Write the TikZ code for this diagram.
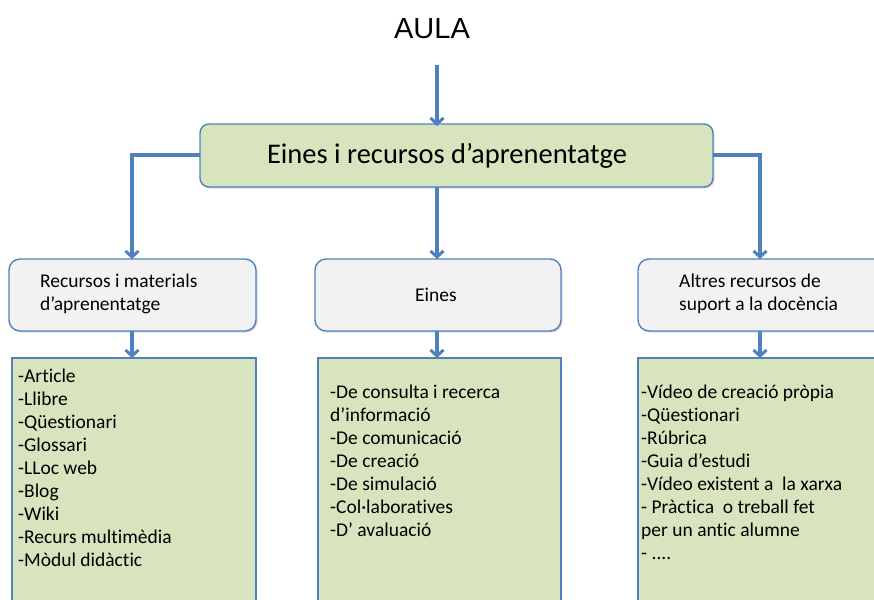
\documentclass[tikz,border=0pt]{standalone}
\usepackage{fontspec}
\setmainfont{Carlito}[Ligatures=NoCommon]
\newfontfamily\aulafont{Liberation Sans}
\usetikzlibrary{arrows.meta,shadows}
\definecolor{lineblue}{HTML}{4F81BD}
\definecolor{boxgreen}{HTML}{D7E4BD}
\definecolor{boxgray}{HTML}{F2F2F2}
\begin{document}
\begin{tikzpicture}[x=1pt,y=-1pt,
  conn/.style={draw=lineblue,line width=3.4pt,-{Straight Barb[length=6pt,width=13pt,line width=3pt]}},
  mainbox/.style={draw=lineblue,line width=1.4pt,fill=boxgreen,rounded corners=9pt,
    drop shadow={shadow xshift=1.5pt,shadow yshift=-1.5pt,opacity=0.3}},
  catbox/.style={draw=lineblue,line width=1.4pt,fill=boxgray,rounded corners=11pt,
    drop shadow={shadow xshift=1.5pt,shadow yshift=-1.5pt,opacity=0.3}},
  listbox/.style={draw=lineblue,line width=1.4pt,fill=boxgreen},
  txt/.style={inner sep=0pt,font=\fontsize{19.5}{23}\selectfont,align=left,anchor=north west},
]
\useasboundingbox (0,0) rectangle (874,599);

\node[font=\aulafont\fontsize{29}{30}\selectfont,inner sep=0pt] (aula) at (432,29) {AULA};

\draw[mainbox] (200,124) rectangle (713,187);
\coordinate (mainN) at (437,124);
\node[inner sep=0pt,font=\fontsize{28.5}{30}\selectfont] (main) at (447,156) {Eines i recursos d’aprenentatge};
\coordinate (mainW) at (200,155);
\coordinate (mainE) at (713,155);
\coordinate (mainS) at (437,187);

% category boxes
\draw[catbox] (9,259) rectangle (256,331);
\draw[catbox] (315,259) rectangle (561,331);
\draw[catbox] (638,259) rectangle (890,331);
\coordinate (c1N) at (132,259);
\coordinate (c2N) at (437,259);
\coordinate (c3N) at (760,259);
\coordinate (c1S) at (132,331);
\coordinate (c2S) at (437,331);
\coordinate (c3S) at (760,331);

\node[txt] (t1) at (40,274) {Recursos i materials\\d’aprenentatge};
\node[inner sep=0pt,font=\fontsize{19.5}{23}\selectfont] (t2) at (436,295) {Eines};
\node[txt] (t3) at (679,274) {Altres recursos de\\suport a la docència};

% list boxes
\draw[listbox] (12,358) rectangle (256,610);
\draw[listbox] (318,358) rectangle (561,610);
\draw[listbox] (638,358) rectangle (890,610);
\coordinate (l1N) at (132,358);
\coordinate (l2N) at (437,358);
\coordinate (l3N) at (760,358);

\node[txt] (l1) at (18,369) {-Article\\-Llibre\\-Qüestionari\\-Glossari\\-LLoc web\\-Blog\\-Wiki\\-Recurs multimèdia\\-Mòdul didàctic};
\node[txt] (l2) at (330,385) {-De consulta i recerca\\d’informació\\-De comunicació\\-De creació\\-De simulació\\-Col·laboratives\\-D’ avaluació};
\node[txt] (l3) at (641,385) {-Vídeo de creació pròpia\\-Qüestionari\\-Rúbrica\\-Guia d’estudi\\-Vídeo existent a\ \ la xarxa\\- Pràctica\ \ o treball fet\\per un antic alumne\\- ....};

% connectors
\draw[conn] (437,65) -- ([yshift=-2pt]mainN);
\draw[conn] (mainW) -| (c1N);
\draw[conn] (mainE) -| (c3N);
\draw[conn] (mainS) -- (c2N);
\draw[conn] (c1S) -- (l1N);
\draw[conn] (c2S) -- (l2N);
\draw[conn] (c3S) -- (l3N);
\end{tikzpicture}
\end{document}
